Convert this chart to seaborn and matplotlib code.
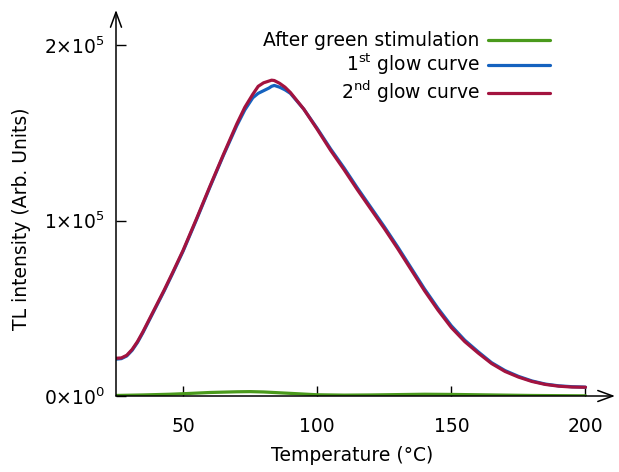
import matplotlib
matplotlib.use("Agg")
import matplotlib.pyplot as plt
import seaborn as sns

# glow curves
temp = [25, 27, 29, 31, 33, 35, 37, 40, 43, 46, 50, 55, 60, 65, 70, 73, 76, 78, 80, 82, 83, 84,
        86, 88, 90, 95, 100, 105, 110, 115, 120, 125, 130, 135, 140, 145, 150, 155, 160, 165,
        170, 175, 180, 185, 190, 195, 199, 200]
glow2 = [21500, 21700, 23200, 26500, 31000, 36500, 42500, 51500, 60500, 70000, 83000, 101000,
         119500, 137500, 155000, 164500, 172000, 176500, 178500, 179500, 180000, 179800,
         178200, 176000, 173000, 163500, 152000, 140000, 129000, 117500, 106500, 95500,
         84000, 72000, 60000, 49000, 39000, 31000, 24500, 18500, 14000, 10800, 8300, 6600,
         5600, 5100, 5000, 5000]
glow1 = [21000, 21300, 22800, 26000, 30500, 36000, 42000, 51000, 60000, 69500, 82500, 100500,
         119000, 137000, 154000, 163000, 170000, 172500, 174000, 175500, 176500, 177000,
         176000, 174500, 172500, 163500, 152500, 140800, 130000, 118500, 107500, 96500,
         85000, 73000, 61000, 50000, 40000, 31800, 25200, 19000, 14500, 11200, 8600, 6800,
         5800, 5300, 5100, 5000]

temp_green = [25, 35, 45, 50, 60, 70, 75, 80, 90, 100, 110, 120, 130, 140, 150, 160, 170, 180, 190, 200]
green = [300, 600, 1000, 1300, 2000, 2400, 2500, 2300, 1500, 700, 500, 600, 800, 1000, 900,
         700, 500, 300, 200, 100]

ytick_vals = [0, 1e5, 2e5]
ytick_labels = [r'$0{\times}10^{0}$', r'$1{\times}10^{5}$', r'$2{\times}10^{5}$']
xtick_vals = [50, 100, 150, 200]

sns.set_style("white")
plt.rcParams['font.family'] = ['DejaVu Sans']
plt.rcParams['mathtext.fontset'] = 'dejavusans'
plt.rcParams['font.size'] = 13.5
for k in ['text.color', 'axes.labelcolor', 'xtick.color', 'ytick.color']:
    plt.rcParams[k] = 'black'

fig = plt.figure(figsize=(6.19, 4.72), dpi=100)
ax = fig.add_axes([116 / 619, 1 - 396 / 472, 499 / 619, 386 / 472])

sns.lineplot(x=temp_green, y=green, ax=ax, color='#4a9a1c', lw=2.3,
             label='After green stimulation', estimator=None)
sns.lineplot(x=temp, y=glow1, ax=ax, color='#1562bf', lw=2.3,
             label=r'1$^{\rm st}$ glow curve', estimator=None)
sns.lineplot(x=temp, y=glow2, ax=ax, color='#a3133f', lw=2.3,
             label=r'2$^{\rm nd}$ glow curve', estimator=None)

ax.set_xlim(25, 211)
ax.set_ylim(0, 2.2e5)
ax.set_xticks(xtick_vals)
ax.set_xticklabels([str(v) for v in xtick_vals])
ax.set_yticks(ytick_vals)
ax.set_yticklabels(ytick_labels)
ax.tick_params(axis='x', bottom=True, direction='in', length=7, width=1, pad=15, labelsize=13.5)
ax.tick_params(axis='y', left=True, direction='in', length=7, width=1, pad=8, labelsize=13.5)

for s in ['top', 'right', 'left', 'bottom']:
    ax.spines[s].set_visible(False)
arrow = dict(arrowstyle='->, head_length=0.6, head_width=0.22', lw=1.1, color='black',
             shrinkA=0, shrinkB=0, mutation_scale=18)
ax.annotate('', xy=(0, 1), xytext=(0, 0), xycoords='axes fraction', arrowprops=arrow)
ax.annotate('', xy=(1, 0), xytext=(0, 0), xycoords='axes fraction', arrowprops=arrow)

ax.set_xlabel('Temperature (°C)', fontsize=13.5)
ax.set_ylabel('TL intensity (Arb. Units)', fontsize=13.5)
ax.xaxis.set_label_coords(0.473, -0.13)
ax.yaxis.set_label_coords(-0.17, 0.459)

ax.legend(loc='upper right', bbox_to_anchor=(0.87, 0.945), frameon=False, markerfirst=False,
          handlelength=3.3, handletextpad=0.45, borderpad=0, borderaxespad=0,
          labelspacing=0.09, fontsize=13.5)

fig.savefig('out.png', dpi=100)
